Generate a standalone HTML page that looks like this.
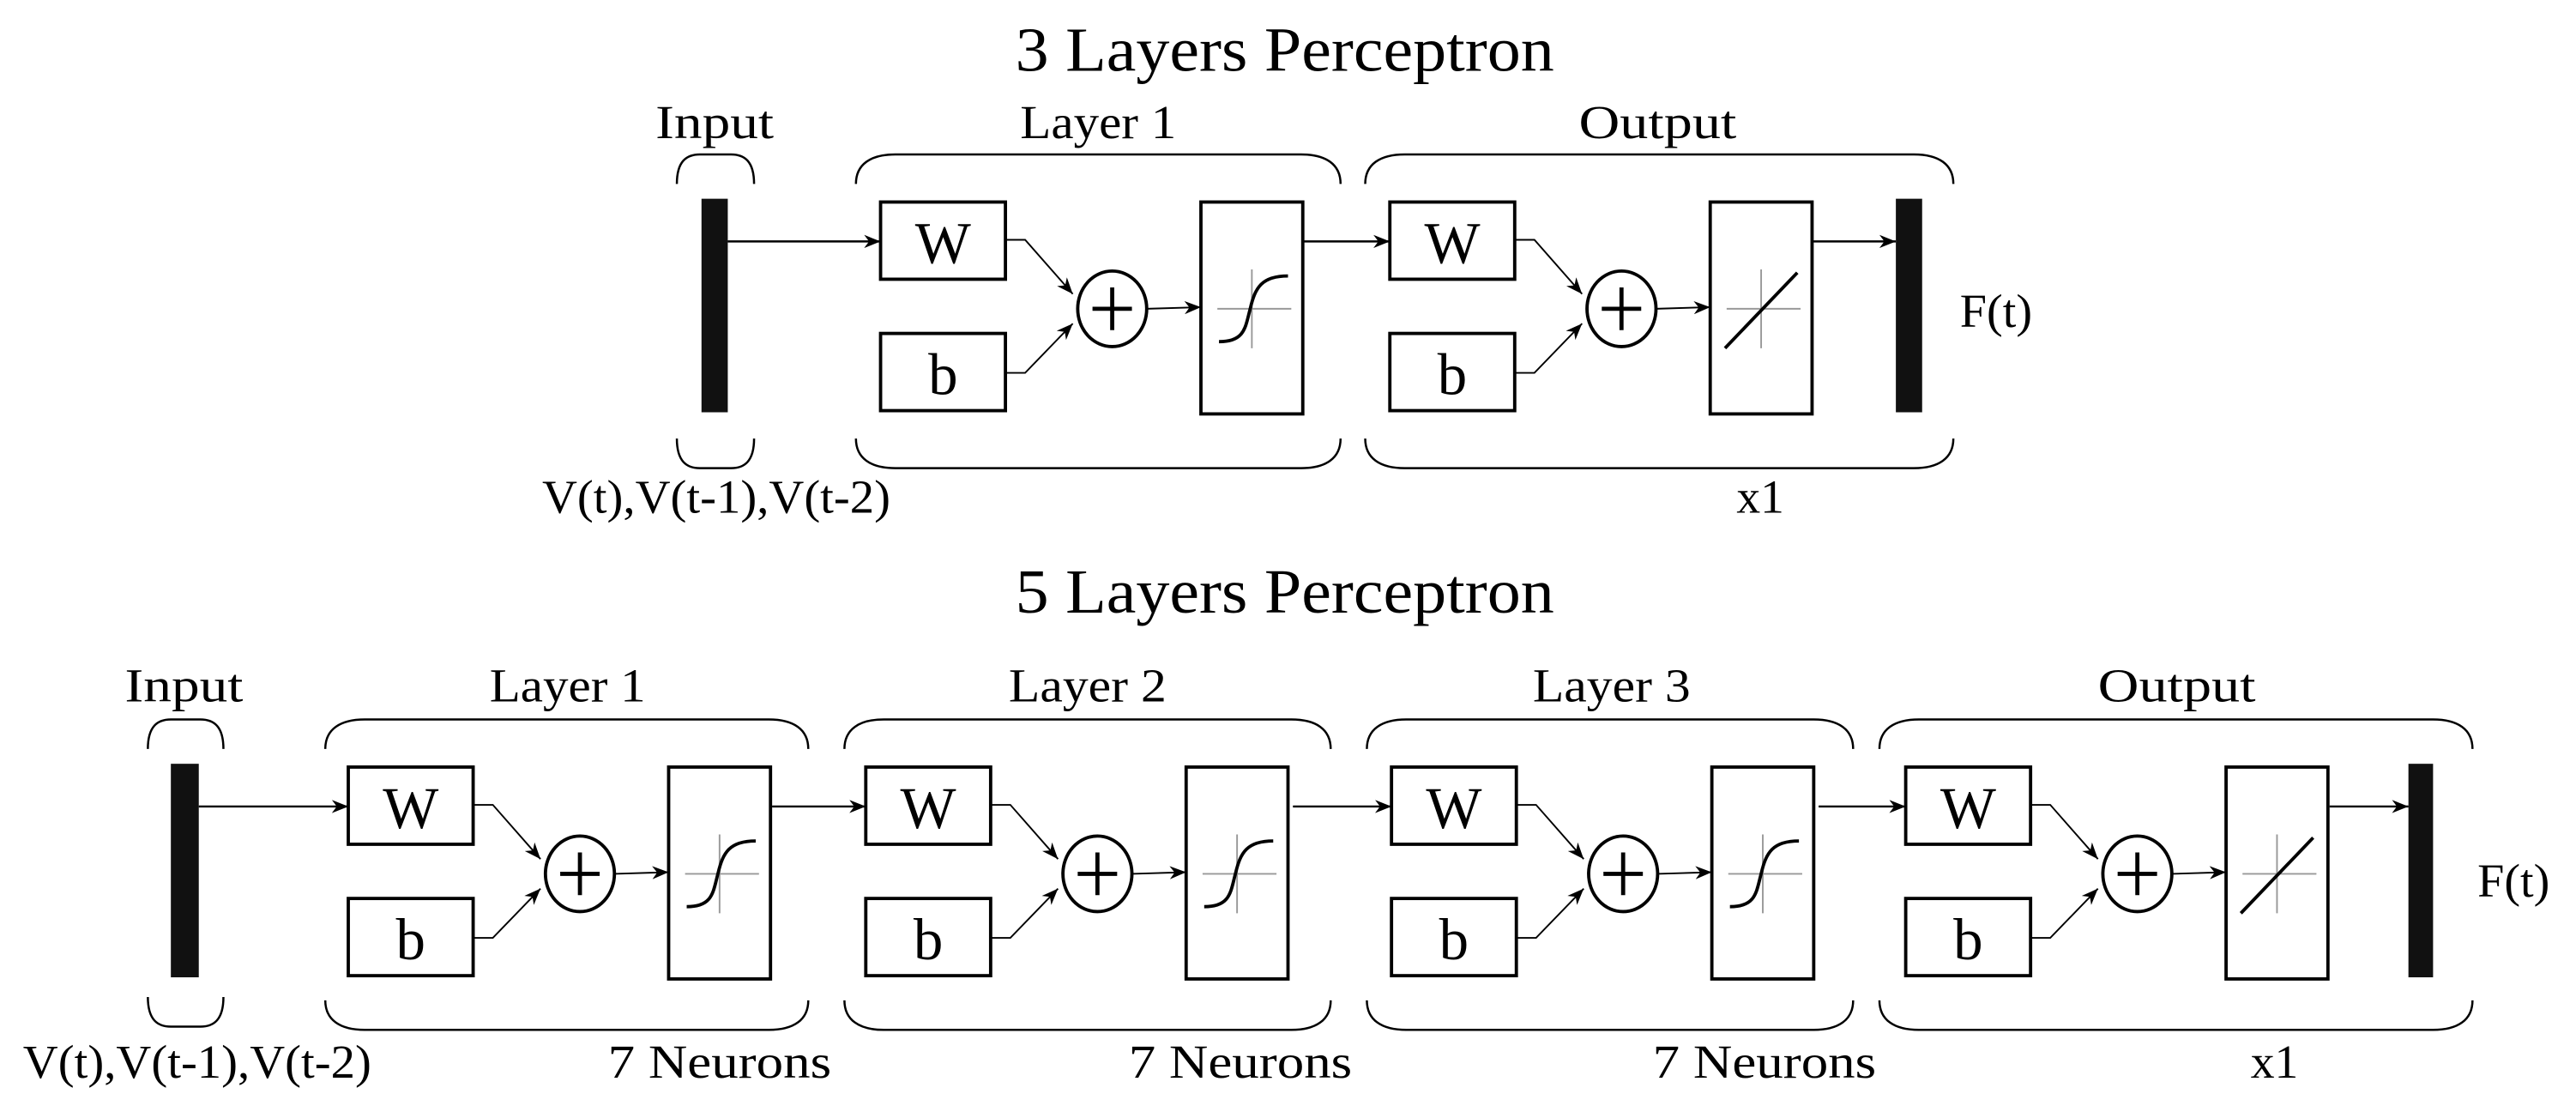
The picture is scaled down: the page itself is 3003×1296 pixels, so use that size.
<!DOCTYPE html>
<html><head><meta charset="utf-8"><style>
html,body{margin:0;padding:0;background:#fff}
svg{display:block}
text{font-family:"Liberation Serif",serif;fill:#000}
</style></head><body>
<svg width="3003" height="1296" viewBox="0 0 1568 677" preserveAspectRatio="none" xmlns="http://www.w3.org/2000/svg">
<defs>
<marker id="ah" markerUnits="userSpaceOnUse" markerWidth="10" markerHeight="8" refX="10" refY="4" orient="auto">
<path d="M0,0 L10,4 L0,8 L3,4 z" fill="#000"/>
</marker>
</defs>
<rect width="1568" height="677" fill="#fff"/>

<!-- Titles -->
<text x="782" y="43" font-size="38" text-anchor="middle" textLength="328" lengthAdjust="spacingAndGlyphs">3 Layers Perceptron</text>
<text x="782" y="373" font-size="38" text-anchor="middle" textLength="328" lengthAdjust="spacingAndGlyphs">5 Layers Perceptron</text>

<g fill="none" stroke="#000" stroke-width="1.3">
<!-- Top row braces -->
<path d="M412 112 C412 98 418 94 426 94 H445 C453 94 459 98 459 112"/>
<path d="M412 267 C412 281 418 285 426 285 H445 C453 285 459 281 459 267"/>
<path d="M521 112 C521 100 530 94 545 94 H792 C807 94 816 100 816 112"/>
<path d="M521 267 C521 279 530 285 545 285 H792 C807 285 816 279 816 267"/>
<path d="M831 112 C831 100 840 94 855 94 H1165 C1180 94 1189 100 1189 112"/>
<path d="M831 267 C831 279 840 285 855 285 H1165 C1180 285 1189 279 1189 267"/>
<!-- Bottom row braces -->
<path d="M90 456 C90 442 96 438 104 438 H122 C130 438 136 442 136 456"/>
<path d="M90 607 C90 621 96 625 104 625 H122 C130 625 136 621 136 607"/>
<path d="M198 456 C198 444 207 438 222 438 H468 C483 438 492 444 492 456"/>
<path d="M198 609 C198 621 207 627 222 627 H468 C483 627 492 621 492 609"/>
<path d="M514 456 C514 444 523 438 538 438 H786 C801 438 810 444 810 456"/>
<path d="M514 609 C514 621 523 627 538 627 H786 C801 627 810 621 810 609"/>
<path d="M832 456 C832 444 841 438 856 438 H1104 C1119 438 1128 444 1128 456"/>
<path d="M832 609 C832 621 841 627 856 627 H1104 C1119 627 1128 621 1128 609"/>
<path d="M1144 456 C1144 444 1153 438 1168 438 H1481 C1496 438 1505 444 1505 456"/>
<path d="M1144 609 C1144 621 1153 627 1168 627 H1481 C1496 627 1505 621 1505 609"/>

<!-- inter-module arrows -->
<path d="M443 147 H536" marker-end="url(#ah)"/>
<path d="M793 147 H846" marker-end="url(#ah)"/>
<path d="M1103 147 H1154" marker-end="url(#ah)"/>
<path d="M121 491 H212" marker-end="url(#ah)"/>
<path d="M470 491 H527" marker-end="url(#ah)"/>
<path d="M787 491 H847" marker-end="url(#ah)"/>
<path d="M1107 491 H1160" marker-end="url(#ah)"/>
<path d="M1418 491 H1466" marker-end="url(#ah)"/>
</g>

<!-- bars -->
<rect x="427" y="121" width="16" height="130" fill="#111"/>
<rect x="1154" y="121" width="16" height="130" fill="#111"/>
<rect x="104" y="465" width="17" height="130" fill="#111"/>
<rect x="1466" y="465" width="15" height="130" fill="#111"/>

<!-- Modules -->
<!-- generic module content repeated -->
<g transform="translate(536,123)">
<rect x="0" y="0" width="76" height="47" fill="none" stroke="#000" stroke-width="2"/>
<rect x="0" y="80" width="76" height="47" fill="none" stroke="#000" stroke-width="2"/>
<text x="38" y="37" font-size="36" text-anchor="middle">W</text>
<text x="38" y="117" font-size="36" text-anchor="middle">b</text>
<g fill="none" stroke="#000" stroke-width="1"><path d="M76 23 H88 L117 56" marker-end="url(#ah)"/><path d="M76 104 H88 L117 74" marker-end="url(#ah)"/><path d="M162 65 L195 64" marker-end="url(#ah)"/></g>
<ellipse cx="141" cy="65" rx="21" ry="23" fill="none" stroke="#000" stroke-width="2"/>
<path d="M129 65 H153 M141 52 V78" stroke="#000" stroke-width="2.5"/>
<rect x="195" y="0" width="62" height="129" fill="none" stroke="#000" stroke-width="2"/>
<path d="M205 65 H250 M226 41 V89" stroke="#999" stroke-width="1"/>
<path d="M206 85 C222 85 222 76 225 65 C228 52 232 45 248 45" fill="none" stroke="#000" stroke-width="2"/>
</g>
<g transform="translate(846,123)">
<rect x="0" y="0" width="76" height="47" fill="none" stroke="#000" stroke-width="2"/>
<rect x="0" y="80" width="76" height="47" fill="none" stroke="#000" stroke-width="2"/>
<text x="38" y="37" font-size="36" text-anchor="middle">W</text>
<text x="38" y="117" font-size="36" text-anchor="middle">b</text>
<g fill="none" stroke="#000" stroke-width="1"><path d="M76 23 H88 L117 56" marker-end="url(#ah)"/><path d="M76 104 H88 L117 74" marker-end="url(#ah)"/><path d="M162 65 L195 64" marker-end="url(#ah)"/></g>
<ellipse cx="141" cy="65" rx="21" ry="23" fill="none" stroke="#000" stroke-width="2"/>
<path d="M129 65 H153 M141 52 V78" stroke="#000" stroke-width="2.5"/>
<rect x="195" y="0" width="62" height="129" fill="none" stroke="#000" stroke-width="2"/>
<path d="M205 65 H250 M226 41 V89" stroke="#999" stroke-width="1"/>
<path d="M204 89 L248 43" fill="none" stroke="#000" stroke-width="2"/>
</g>

<g transform="translate(212,467)">
<rect x="0" y="0" width="76" height="47" fill="none" stroke="#000" stroke-width="2"/>
<rect x="0" y="80" width="76" height="47" fill="none" stroke="#000" stroke-width="2"/>
<text x="38" y="37" font-size="36" text-anchor="middle">W</text>
<text x="38" y="117" font-size="36" text-anchor="middle">b</text>
<g fill="none" stroke="#000" stroke-width="1"><path d="M76 23 H88 L117 56" marker-end="url(#ah)"/><path d="M76 104 H88 L117 74" marker-end="url(#ah)"/><path d="M162 65 L195 64" marker-end="url(#ah)"/></g>
<ellipse cx="141" cy="65" rx="21" ry="23" fill="none" stroke="#000" stroke-width="2"/>
<path d="M129 65 H153 M141 52 V78" stroke="#000" stroke-width="2.5"/>
<rect x="195" y="0" width="62" height="129" fill="none" stroke="#000" stroke-width="2"/>
<path d="M205 65 H250 M226 41 V89" stroke="#999" stroke-width="1"/>
<path d="M206 85 C222 85 222 76 225 65 C228 52 232 45 248 45" fill="none" stroke="#000" stroke-width="2"/>
</g>
<g transform="translate(527,467)">
<rect x="0" y="0" width="76" height="47" fill="none" stroke="#000" stroke-width="2"/>
<rect x="0" y="80" width="76" height="47" fill="none" stroke="#000" stroke-width="2"/>
<text x="38" y="37" font-size="36" text-anchor="middle">W</text>
<text x="38" y="117" font-size="36" text-anchor="middle">b</text>
<g fill="none" stroke="#000" stroke-width="1"><path d="M76 23 H88 L117 56" marker-end="url(#ah)"/><path d="M76 104 H88 L117 74" marker-end="url(#ah)"/><path d="M162 65 L195 64" marker-end="url(#ah)"/></g>
<ellipse cx="141" cy="65" rx="21" ry="23" fill="none" stroke="#000" stroke-width="2"/>
<path d="M129 65 H153 M141 52 V78" stroke="#000" stroke-width="2.5"/>
<rect x="195" y="0" width="62" height="129" fill="none" stroke="#000" stroke-width="2"/>
<path d="M205 65 H250 M226 41 V89" stroke="#999" stroke-width="1"/>
<path d="M206 85 C222 85 222 76 225 65 C228 52 232 45 248 45" fill="none" stroke="#000" stroke-width="2"/>
</g>
<g transform="translate(847,467)">
<rect x="0" y="0" width="76" height="47" fill="none" stroke="#000" stroke-width="2"/>
<rect x="0" y="80" width="76" height="47" fill="none" stroke="#000" stroke-width="2"/>
<text x="38" y="37" font-size="36" text-anchor="middle">W</text>
<text x="38" y="117" font-size="36" text-anchor="middle">b</text>
<g fill="none" stroke="#000" stroke-width="1"><path d="M76 23 H88 L117 56" marker-end="url(#ah)"/><path d="M76 104 H88 L117 74" marker-end="url(#ah)"/><path d="M162 65 L195 64" marker-end="url(#ah)"/></g>
<ellipse cx="141" cy="65" rx="21" ry="23" fill="none" stroke="#000" stroke-width="2"/>
<path d="M129 65 H153 M141 52 V78" stroke="#000" stroke-width="2.5"/>
<rect x="195" y="0" width="62" height="129" fill="none" stroke="#000" stroke-width="2"/>
<path d="M205 65 H250 M226 41 V89" stroke="#999" stroke-width="1"/>
<path d="M206 85 C222 85 222 76 225 65 C228 52 232 45 248 45" fill="none" stroke="#000" stroke-width="2"/>
</g>
<g transform="translate(1160,467)">
<rect x="0" y="0" width="76" height="47" fill="none" stroke="#000" stroke-width="2"/>
<rect x="0" y="80" width="76" height="47" fill="none" stroke="#000" stroke-width="2"/>
<text x="38" y="37" font-size="36" text-anchor="middle">W</text>
<text x="38" y="117" font-size="36" text-anchor="middle">b</text>
<g fill="none" stroke="#000" stroke-width="1"><path d="M76 23 H88 L117 56" marker-end="url(#ah)"/><path d="M76 104 H88 L117 74" marker-end="url(#ah)"/><path d="M162 65 L195 64" marker-end="url(#ah)"/></g>
<ellipse cx="141" cy="65" rx="21" ry="23" fill="none" stroke="#000" stroke-width="2"/>
<path d="M129 65 H153 M141 52 V78" stroke="#000" stroke-width="2.5"/>
<rect x="195" y="0" width="62" height="129" fill="none" stroke="#000" stroke-width="2"/>
<path d="M205 65 H250 M226 41 V89" stroke="#999" stroke-width="1"/>
<path d="M204 89 L248 43" fill="none" stroke="#000" stroke-width="2"/>
</g>

<!-- Labels top -->
<g font-size="29">
<text x="399" y="84" textLength="72" lengthAdjust="spacingAndGlyphs">Input</text>
<text x="621" y="84" textLength="95" lengthAdjust="spacingAndGlyphs">Layer 1</text>
<text x="961" y="84" textLength="96" lengthAdjust="spacingAndGlyphs">Output</text>
<text x="330" y="312" textLength="212" lengthAdjust="spacingAndGlyphs">V(t),V(t-1),V(t-2)</text>
<text x="1057" y="312" textLength="29" lengthAdjust="spacingAndGlyphs">x1</text>
<text x="1193" y="199" textLength="44" lengthAdjust="spacingAndGlyphs">F(t)</text>
<!-- bottom -->
<text x="76" y="427" textLength="72" lengthAdjust="spacingAndGlyphs">Input</text>
<text x="298" y="427" textLength="95" lengthAdjust="spacingAndGlyphs">Layer 1</text>
<text x="614" y="427" textLength="96" lengthAdjust="spacingAndGlyphs">Layer 2</text>
<text x="933" y="427" textLength="96" lengthAdjust="spacingAndGlyphs">Layer 3</text>
<text x="1277" y="427" textLength="96" lengthAdjust="spacingAndGlyphs">Output</text>
<text x="14" y="656" textLength="212" lengthAdjust="spacingAndGlyphs">V(t),V(t-1),V(t-2)</text>
<text x="370" y="656" textLength="136" lengthAdjust="spacingAndGlyphs">7 Neurons</text>
<text x="687" y="656" textLength="136" lengthAdjust="spacingAndGlyphs">7 Neurons</text>
<text x="1006" y="656" textLength="136" lengthAdjust="spacingAndGlyphs">7 Neurons</text>
<text x="1370" y="656" textLength="29" lengthAdjust="spacingAndGlyphs">x1</text>
<text x="1508" y="546" textLength="44" lengthAdjust="spacingAndGlyphs">F(t)</text>
</g>
</svg>
</body></html>
